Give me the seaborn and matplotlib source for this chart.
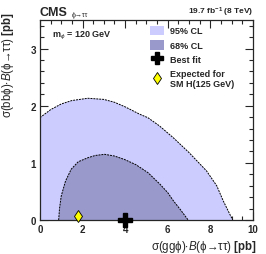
import matplotlib
matplotlib.use("Agg")
import matplotlib.pyplot as plt
import seaborn as sns
from matplotlib.patches import Patch
from matplotlib.lines import Line2D
from matplotlib.ticker import MultipleLocator

# 95% CL contour (ggphi xs, bbphi xs)
cl95_x = [0.0, 0.0, 0.5, 1.0, 1.5, 2.25, 3.0, 3.5, 4.0, 4.69, 5.07, 5.6, 6.26, 7.0, 7.82, 8.3, 8.6, 8.85, 9.05]
cl95_y = [0.0, 1.79, 1.93, 2.03, 2.09, 2.13, 2.11, 2.06, 1.98, 1.85, 1.79, 1.65, 1.44, 1.18, 0.86, 0.6, 0.34, 0.15, 0.0]

# 68% CL contour
cl68_x = [0.88, 0.92, 1.0, 1.2, 1.47, 1.8, 2.25, 2.6, 3.04, 3.5, 3.97, 4.5, 5.07, 5.63, 6.0, 6.26, 6.6, 6.96]
cl68_y = [0.0, 0.2, 0.42, 0.68, 0.89, 1.02, 1.09, 1.13, 1.15, 1.12, 1.06, 0.97, 0.83, 0.63, 0.48, 0.34, 0.18, 0.0]

best_fit = (4.0, 0.0)
sm_expected = (1.8, 0.08)

sns.set_style("ticks")
plt.rcParams["font.family"] = ["Liberation Sans", "DejaVu Sans"]
plt.rcParams["mathtext.fontset"] = "custom"
plt.rcParams["mathtext.rm"] = "Liberation Sans"
plt.rcParams["mathtext.it"] = "Liberation Sans:italic"
plt.rcParams["mathtext.bf"] = "Liberation Sans:bold"

fig = plt.figure(figsize=(2.66, 2.55), dpi=100)
ax = fig.add_axes([0.150, 0.133, 0.801, 0.785])

c95 = "#ccccff"
c68 = "#9999cc"
ax.fill(cl95_x, cl95_y, color=c95, lw=0)
ax.fill(cl68_x + [cl68_x[0]], cl68_y + [0.0], color=c68, lw=0)
sns.lineplot(x=cl95_x[1:], y=cl95_y[1:], sort=False, ax=ax, color="black",
             lw=0.7, linestyle=(0, (2, 1)))
sns.lineplot(x=cl68_x, y=cl68_y, sort=False, ax=ax, color="black",
             lw=0.7, linestyle=(0, (2, 1)))

ax.plot([best_fit[0]], [best_fit[1]], marker="P", color="black", ms=10,
        mec="black", clip_on=False, zorder=5)
ax.plot([sm_expected[0]], [sm_expected[1]], marker="d", color="#ffff00", ms=6,
        mec="black", mew=0.6, clip_on=False, zorder=5)

ax.set_xlim(0, 10)
ax.set_ylim(0, 3.5)
ax.xaxis.set_major_locator(MultipleLocator(2))
ax.xaxis.set_minor_locator(MultipleLocator(0.5))
ax.yaxis.set_major_locator(MultipleLocator(1))
ax.yaxis.set_minor_locator(MultipleLocator(0.2))
ax.tick_params(which="both", direction="in", top=True, right=True,
               labelsize=7, width=0.8, pad=3)
ax.tick_params(which="major", length=6)
ax.tick_params(which="minor", length=3)
for lab in ax.get_xticklabels() + ax.get_yticklabels():
    lab.set_fontweight("bold")
for sp in ax.spines.values():
    sp.set_linewidth(0.9)

ax.set_xlabel(r"σ(ggϕ)$\cdot\mathit{B}$(ϕ→ττ) $\mathbf{[pb]}$", fontsize=8.3,
              ha="right", x=1.0)
ax.xaxis.set_label_coords(1.02, -0.09)
ax.set_ylabel(r"σ(bbϕ)$\cdot\mathit{B}$(ϕ→ττ) $\mathbf{[pb]}$", fontsize=8.3,
              ha="right", y=1.0)
ax.yaxis.set_label_coords(-0.11, 1.045)

ax.text(0.0, 1.012, "CMS", transform=ax.transAxes, fontsize=9,
        fontweight="bold", ha="left", va="bottom")
ax.text(0.15, 1.012, "ϕ→ττ", transform=ax.transAxes, fontsize=5,
        ha="left", va="bottom")
ax.text(1.0, 1.012, r"19.7 fb$^{\mathbf{-1}}$ (8 TeV)", transform=ax.transAxes,
        fontsize=6, fontweight="bold", ha="right", va="bottom")
ax.text(0.055, 0.925, r"m$_{ϕ}$ = 120 GeV", transform=ax.transAxes,
        fontsize=6.5, fontweight="bold", ha="left", va="center")

handles = [Patch(facecolor=c95, edgecolor="none"),
           Patch(facecolor=c68, edgecolor="none"),
           Line2D([], [], marker="P", color="black", ms=8, lw=0),
           Line2D([], [], marker="d", color="#ffff00", mec="black", mew=0.6,
                  ms=6, lw=0)]
labels = ["95% CL", "68% CL", "Best fit", "Expected for\nSM H(125 GeV)"]
ax.legend(handles, labels, loc="upper left", bbox_to_anchor=(0.5, 0.99),
          frameon=False, prop={"size": 6.5, "weight": "bold"},
          handlelength=1.6, handleheight=1.3, labelspacing=0.5,
          handletextpad=0.6, borderaxespad=0)

fig.savefig("out.png", dpi=100)
